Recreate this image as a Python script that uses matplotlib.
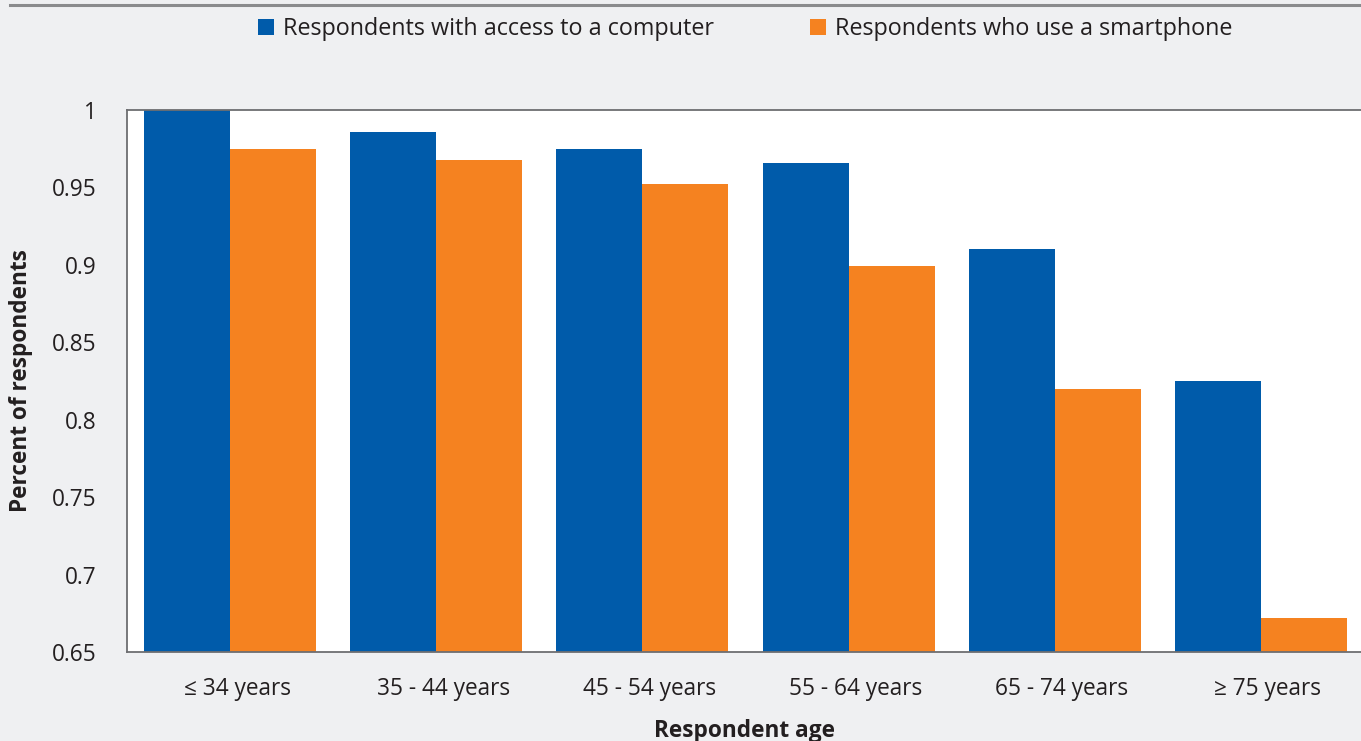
import matplotlib
matplotlib.use("Agg")
import matplotlib.pyplot as plt
import matplotlib.transforms as mtransforms
import numpy as np
from matplotlib.patches import Patch
from matplotlib.lines import Line2D

plt.rcParams['font.family'] = ['Open Sans', 'DejaVu Sans']

categories = ["≤ 34 years", "35 - 44 years", "45 - 54 years", "55 - 64 years", "65 - 74 years", "≥ 75 years"]
computer = [1.0, 0.986, 0.975, 0.966, 0.910, 0.825]
smartphone = [0.975, 0.968, 0.952, 0.899, 0.820, 0.672]
yticks = [0.65, 0.7, 0.75, 0.8, 0.85, 0.9, 0.95, 1.0]
ytick_labels = ["0.65", "0.7", "0.75", "0.8", "0.85", "0.9", "0.95", "1"]
series_names = ["Respondents with access to a computer", "Respondents who use a smartphone"]

BLUE = "#005BAA"
ORANGE = "#F58220"
BG = "#EFF0F2"
TXT = "#231F20"
FS = 16.3

W, H = 1361, 741
fig = plt.figure(figsize=(W / 100, H / 100), dpi=100, facecolor=BG)

left, right, top, bottom = 127, 1364, 110, 652
ax = fig.add_axes([left / W, 1 - bottom / H, (right - left) / W, (bottom - top) / H])
ax.set_facecolor("white")

x = np.arange(len(categories))
bw = 0.417
ax.bar(x - bw / 2, computer, width=bw, color=BLUE, zorder=2)
ax.bar(x + bw / 2, smartphone, width=bw, color=ORANGE, zorder=2)

ax.set_xlim(-0.5, len(categories) - 0.5)
ax.set_ylim(0.65, 1.0)
ax.set_yticks(yticks)
ax.set_yticklabels(ytick_labels)
ax.set_xticks(x)
ax.set_xticklabels(categories)
ax.tick_params(axis="both", length=0, labelsize=FS, colors=TXT)
ax.tick_params(axis="y", pad=22)
ax.tick_params(axis="x", pad=18)

offset = mtransforms.ScaledTranslation(7 / 100, 0, fig.dpi_scale_trans)
for lbl in ax.get_xticklabels():
    lbl.set_transform(lbl.get_transform() + offset)

for s in ["left", "top", "bottom"]:
    ax.spines[s].set_color("#6d6e71")
    ax.spines[s].set_linewidth(1.3)
ax.spines["right"].set_visible(False)

fig.text(21 / W, 1 - 381 / H, "Percent of respondents", rotation=90, ha="center", va="center",
         fontsize=FS, fontweight="bold", color=TXT)
fig.text(745 / W, 1 - 731 / H, "Respondent age", ha="center", va="center",
         fontsize=FS, fontweight="bold", color=TXT)

# top gray rule
fig.add_artist(Line2D([10 / W, 1.0], [1 - 5 / H, 1 - 5 / H], color="#8a8b8d", linewidth=2.2))

handles = [Patch(facecolor=BLUE, edgecolor="none"), Patch(facecolor=ORANGE, edgecolor="none")]
fig.legend(handles, series_names, loc="center", bbox_to_anchor=(745 / W, 1 - 29 / H),
           ncol=2, frameon=False, fontsize=16.8, handlelength=0.68, handleheight=0.68,
           handletextpad=0.4, columnspacing=4.1, labelcolor=TXT)

fig.savefig("out.png", dpi=100, facecolor=BG)
